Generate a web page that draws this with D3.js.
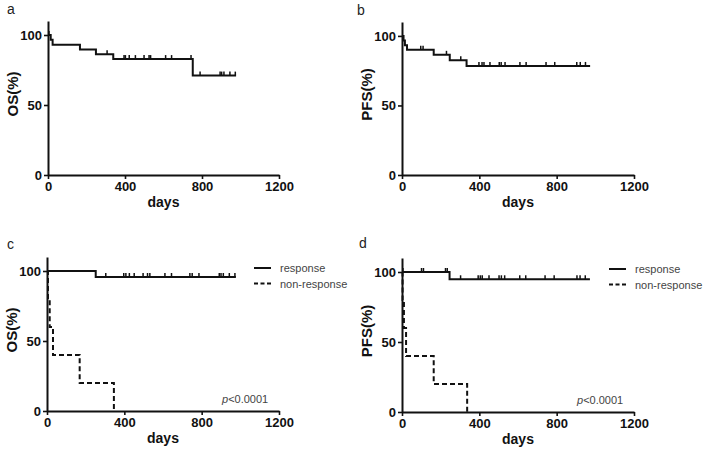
<!DOCTYPE html>
<html>
<head>
<meta charset="utf-8">
<script src="https://cdn.jsdelivr.net/npm/d3@7"></script>
<style>
  html, body { margin: 0; padding: 0; background: #fff; }
  svg { display: block; }
  text { font-family: "Liberation Sans", Arial, sans-serif; }
</style>
</head>
<body>
<svg id="chart" width="709" height="454"></svg>
<script>
// ---------- DATA ----------
const xTicks = [0, 400, 800, 1200];
const yTicks = [0, 50, 100];
const legendLabels = ["response", "non-response"];
const pText = "<0.0001";

// Panel a: overall OS
const aTimes = [0, 14, 24, 166, 249, 339, 752, 977];
const aSurv  = [100, 96.6, 93.1, 89.7, 86.2, 82.8, 71.0, 71.0];
const aCensT = [5, 307, 395, 402, 422, 454, 499, 525, 533, 611, 642, 743, 790, 894, 902, 914, 945, 973];
const aCensS = [100, 86.2, 82.8, 82.8, 82.8, 82.8, 82.8, 82.8, 82.8, 82.8, 82.8, 82.8, 71.0, 71.0, 71.0, 71.0, 71.0, 71.0];

// Panel b: overall PFS
const bTimes = [0, 8, 15, 26, 164, 247, 334, 973];
const bSurv  = [100, 96.7, 93.3, 90.0, 86.4, 82.5, 78.4, 78.4];
const bCensT = [97, 109, 230, 304, 398, 414, 424, 455, 503, 513, 533, 610, 642, 745, 790, 904, 922, 949];
const bCensS = [90.0, 90.0, 86.4, 82.5, 78.4, 78.4, 78.4, 78.4, 78.4, 78.4, 78.4, 78.4, 78.4, 78.4, 78.4, 78.4, 78.4, 78.4];

// Panel c: OS by response
const cRespTimes = [0, 252, 977];
const cRespSurv  = [100, 95.7, 95.7];
const cRespCensT = [304, 397, 408, 426, 451, 497, 520, 532, 610, 644, 739, 751, 786, 891, 900, 912, 943, 972];
const cRespCensS = [95.7, 95.7, 95.7, 95.7, 95.7, 95.7, 95.7, 95.7, 95.7, 95.7, 95.7, 95.7, 95.7, 95.7, 95.7, 95.7, 95.7, 95.7];
const cNonTimes  = [0, 5, 14, 31, 169, 346];
const cNonSurv   = [100, 80, 60, 40, 20, 0];

// Panel d: PFS by response
const dRespTimes = [0, 246, 972];
const dRespSurv  = [100, 94.8, 94.8];
const dRespCensT = [5, 101, 111, 225, 234, 303, 394, 405, 415, 450, 502, 514, 531, 609, 640, 740, 787, 905, 921, 948];
const dRespCensS = [100, 100, 100, 100, 100, 94.8, 94.8, 94.8, 94.8, 94.8, 94.8, 94.8, 94.8, 94.8, 94.8, 94.8, 94.8, 94.8, 94.8, 94.8];
const dNonTimes  = [0, 3, 10, 21, 164, 337];
const dNonSurv   = [100, 80, 60, 40, 20, 0];

// ---------- LAYOUT ----------
const panels = [
  { id: "a", yLabel: "OS(%)",  x0: 48,  x1: 279, yb: 175, yt: 21,  lx: 7,   ly: 14,
    curves: [{ t: aTimes, s: aSurv, ct: aCensT, cs: aCensS, dash: null }], legend: false },
  { id: "b", yLabel: "PFS(%)", x0: 402, x1: 634, yb: 175, yt: 22,  lx: 357, ly: 15,
    curves: [{ t: bTimes, s: bSurv, ct: bCensT, cs: bCensS, dash: null }], legend: false },
  { id: "c", yLabel: "OS(%)",  x0: 47,  x1: 279, yb: 411, yt: 257, lx: 7,   ly: 249,
    curves: [{ t: cRespTimes, s: cRespSurv, ct: cRespCensT, cs: cRespCensS, dash: null },
             { t: cNonTimes, s: cNonSurv, ct: [], cs: [], dash: "5,3" }], legend: true },
  { id: "d", yLabel: "PFS(%)", x0: 402, x1: 634, yb: 412, yt: 258, lx: 359, ly: 248,
    curves: [{ t: dRespTimes, s: dRespSurv, ct: dRespCensT, cs: dRespCensS, dash: null },
             { t: dNonTimes, s: dNonSurv, ct: [], cs: [], dash: "5,3" }], legend: true }
];

const svg = d3.select("#chart");
const ink = "#111";

panels.forEach(p => {
  const g = svg.append("g");
  const x = d3.scaleLinear().domain([0, 1200]).range([p.x0, p.x1]);
  const y = d3.scaleLinear().domain([0, 110]).range([p.yb, p.yt]);

  // axes
  const xAxis = d3.axisBottom(x).tickValues(xTicks).tickFormat(d3.format("d"))
    .tickSize(4).tickSizeOuter(0).tickPadding(3);
  const yAxis = d3.axisLeft(y).tickValues(yTicks).tickFormat(d3.format("d"))
    .tickSize(4).tickSizeOuter(0).tickPadding(2);

  const gx = g.append("g").attr("transform", `translate(0,${p.yb})`).call(xAxis);
  const gy = g.append("g").attr("transform", `translate(${p.x0},0)`).call(yAxis);
  [gx, gy].forEach(a => {
    a.select(".domain").attr("stroke", ink).attr("stroke-width", 2);
    a.selectAll(".tick line").attr("stroke", ink).attr("stroke-width", 1.6);
    a.selectAll(".tick text").attr("fill", ink).attr("font-size", 13).attr("font-weight", "bold")
      .style("font-family", "'Liberation Sans', Arial, sans-serif");
  });

  // axis titles
  g.append("text").attr("x", (p.x0 + p.x1) / 2).attr("y", p.yb + 32)
    .attr("text-anchor", "middle").attr("font-size", 14).attr("font-weight", "bold")
    .attr("fill", ink).text("days");
  g.append("text")
    .attr("transform", `translate(${p.x0 - 30},${(p.yb + p.yt) / 2 - 4}) rotate(-90)`)
    .attr("text-anchor", "middle").attr("font-size", 15).attr("font-weight", "bold")
    .attr("fill", ink).text(p.yLabel);

  // panel letter
  g.append("text").attr("x", p.lx).attr("y", p.ly).attr("font-size", 14)
    .attr("fill", "#222").text(p.id);

  // curves
  const line = d3.line().x(d => x(d[0])).y(d => y(d[1])).curve(d3.curveStepAfter);
  p.curves.forEach(c => {
    const pts = c.t.map((t, i) => [t, c.s[i]]);
    g.append("path").attr("d", line(pts)).attr("fill", "none")
      .attr("stroke", ink).attr("stroke-width", 2)
      .attr("stroke-dasharray", c.dash);
    g.selectAll(null).data(c.ct.map((t, i) => [t, c.cs[i]])).enter().append("line")
      .attr("x1", d => x(d[0])).attr("x2", d => x(d[0]))
      .attr("y1", d => y(d[1]) - 4).attr("y2", d => y(d[1]))
      .attr("stroke", ink).attr("stroke-width", 1.5);
  });

  if (p.legend) {
    const lx0 = p.x1 - 25, lx1 = p.x1 - 8, tx = p.x1 + 1;
    const ys = [p.yt + 11, p.yt + 26.5];
    legendLabels.forEach((lab, i) => {
      g.append("line").attr("x1", lx0).attr("x2", lx1).attr("y1", ys[i]).attr("y2", ys[i])
        .attr("stroke", ink).attr("stroke-width", 2)
        .attr("stroke-dasharray", i === 1 ? "4,2.5" : null);
      g.append("text").attr("x", tx).attr("y", ys[i] + 4).attr("font-size", 11)
        .attr("fill", "#444").text(lab);
    });
    const pt = g.append("text").attr("x", p.x1 - 57).attr("y", p.yb - 8)
      .attr("font-size", 11).attr("fill", "#444");
    pt.append("tspan").attr("font-style", "italic").text("p");
    pt.append("tspan").text(pText);
  }
});
</script>
</body>
</html>
